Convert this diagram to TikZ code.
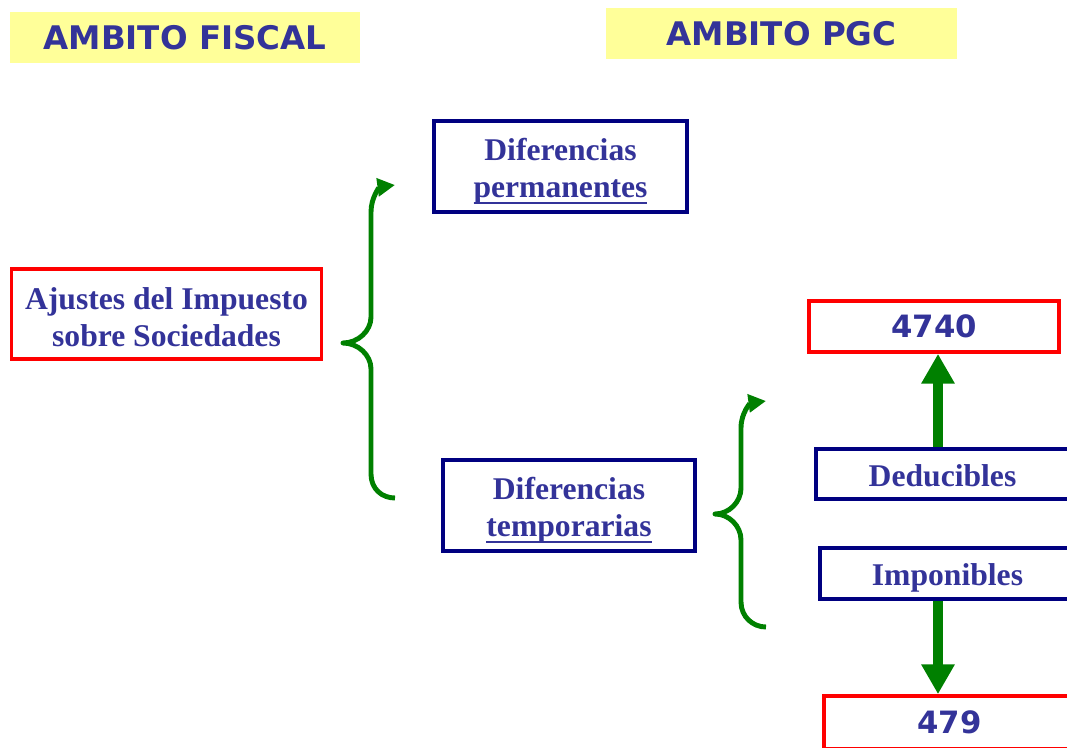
\documentclass[tikz,border=0pt]{standalone}
\usepackage{fontspec}
\setmainfont{Liberation Serif}
\newfontfamily\hdfont{DejaVu Sans}
\usetikzlibrary{arrows.meta}

\definecolor{txtblue}{RGB}{51,51,153}
\definecolor{boxblue}{RGB}{0,0,128}
\definecolor{boxred}{RGB}{255,0,0}
\definecolor{hdyellow}{RGB}{255,255,153}
\definecolor{arrgreen}{RGB}{0,128,0}

% subrayado grueso
\newcommand\ulin[1]{\setbox0\hbox{#1}\rlap{\raisebox{-3.6pt}{\rule{\wd0}{1.1pt}}}\box0}
\newcommand\topstrut[1]{\rule{0pt}{#1}}

\begin{document}
\begin{tikzpicture}[x=0.02cm, y=-0.02cm,
    hdbox/.style={fill=hdyellow, minimum width=7.02cm, minimum height=1.02cm,
        text=txtblue, font=\hdfont\bfseries\fontsize{18.5}{22}\selectfont},
    bluebox/.style={draw=boxblue, line width=2.3pt, fill=white, align=center,
        text=txtblue, font=\bfseries\fontsize{18}{21.5}\selectfont},
    redbox/.style={draw=boxred, line width=2.1pt, fill=white, align=center,
        text=txtblue, font=\bfseries\fontsize{18}{21.5}\selectfont},
    numbox/.style={redbox, font=\hdfont\bfseries\fontsize{17.5}{21}\selectfont},
    brace/.style={draw=arrgreen, line width=2.8pt, line join=round,
        -{Triangle[length=10pt,width=10pt]}},
    bigarrow/.style={draw=arrgreen, line width=5.7pt,
        -{Triangle[length=17pt,width=18pt]}}]
    \useasboundingbox (0,0) rectangle (1067,747);

    % titulos
    \node[hdbox] (fiscal) at (185,37.5) {AMBITO FISCAL};
    \node[hdbox] (pgc) at (781.5,33.5) {AMBITO PGC};

    % cajas principales
    \node[redbox, minimum width=6.2cm, minimum height=1.8cm] (ajustes) at (166.5,314)
        {\topstrut{16pt}Ajustes del Impuesto\\sobre Sociedades};
    \node[bluebox, minimum width=5.05cm, minimum height=1.82cm] (perm) at (560.5,166.5)
        {\topstrut{18pt}Diferencias\\\ulin{permanentes}};
    \node[bluebox, minimum width=5.03cm, minimum height=1.82cm] (temp) at (569,505.5)
        {\topstrut{18pt}Diferencias\\\ulin{temporarias}};

    % cuentas
    \node[numbox, minimum width=5cm, minimum height=1.02cm] (n4740) at (934,326.5) {4740};
    \node[bluebox, minimum width=5.05cm, minimum height=1cm] (deduc) at (942.5,474)
        {\topstrut{15pt}Deducibles};
    \node[bluebox, minimum width=5.09cm, minimum height=1.02cm] (impon) at (947.5,573.5)
        {\topstrut{17pt}Imponibles};
    \node[numbox, minimum width=5.02cm, minimum height=1.06cm] (n479) at (949.5,722.5) {479};

    % llave de los ajustes
    \draw[brace] (395,498) .. controls (382,498) and (371,489) .. (371,474) -- (371,369)
        .. controls (371,355) and (358,343) .. (343,343)
        .. controls (358,343) and (371,331) .. (371,317)
        -- (371,212) .. controls (371,197) and (380,187) .. (395,185);

    % llave de las temporarias
    \draw[brace] (766,627) .. controls (753,627) and (741,617) .. (741,602) -- (741,540)
        .. controls (741,526) and (729,514) .. (715,514)
        .. controls (729,514) and (741,502) .. (741,488)
        -- (741,428) .. controls (741,412) and (751,403) .. (766,401);

    % flechas a las cuentas
    \draw[bigarrow] (deduc.north -| 938,0) -- (n4740.south -| 938,0);
    \draw[bigarrow] (impon.south -| 938,0) -- (n479.north -| 938,0);

\end{tikzpicture}
\end{document}
